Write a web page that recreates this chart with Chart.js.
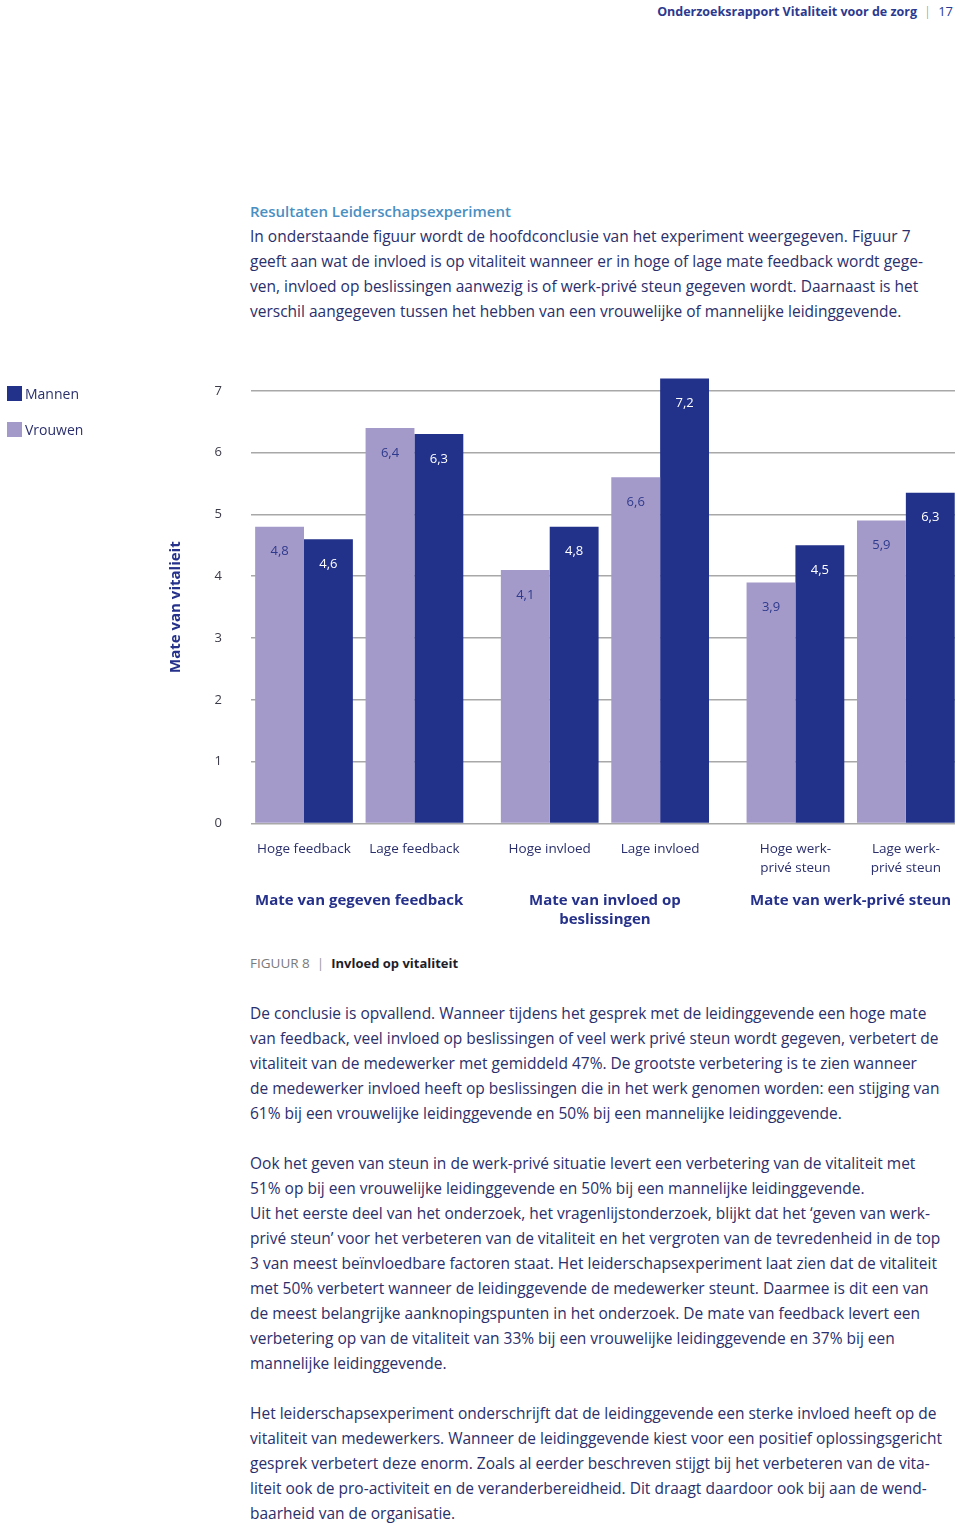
<!DOCTYPE html>
<html>
<head>
<meta charset="utf-8">
<script src="https://cdn.jsdelivr.net/npm/chart.js@4.4.1/dist/chart.umd.min.js"></script>
<style>
html,body{margin:0;padding:0;background:#fff;}
body{width:960px;height:1526px;position:relative;overflow:hidden;font-family:'Open Sans',sans-serif;color:#2a2f6c;}
.abs{position:absolute;}
.txt{left:250px;font-size:15.5px;line-height:25px;white-space:nowrap;color:#2a2f6c;}
.txt .ln{height:25px;}
.head{color:#4a8fc2;font-weight:600;font-size:15px;}
#hdr{right:7px;top:2px;font-size:12.5px;white-space:nowrap;color:#2b3990;}
#hdr b{font-weight:700;}
#hdr .sep{color:#888;margin:0 7px;font-weight:300;font-size:13px;}
#hdr .pg{font-size:13px;}
#caption{left:250px;top:954px;font-size:13.5px;white-space:nowrap;}
#caption .f{color:#7a7a7a;}
#caption .sep{color:#999;margin:0 7px;}
#caption .t{color:#1e1e2a;font-weight:700;font-size:13px;}
#chartWrap{left:0;top:354px;width:960px;height:580px;}
.leg{left:7px;height:15px;display:flex;align-items:center;font-size:14px;color:#2a2f6c;white-space:nowrap;}
.leg .sw{width:15px;height:15px;margin-right:3px;}
</style>
</head>
<body>
<div id="hdr" class="abs"><b>Onderzoeksrapport Vitaliteit voor de zorg</b><span class="sep">|</span><span class="pg">17</span></div>

<div class="abs txt" style="top:198.5px;">
<div class="ln head">Resultaten Leiderschapsexperiment</div>
<div class="ln">In onderstaande figuur wordt de hoofdconclusie van het experiment weergegeven. Figuur 7</div>
<div class="ln">geeft aan wat de invloed is op vitaliteit wanneer er in hoge of lage mate feedback wordt gege-</div>
<div class="ln">ven, invloed op beslissingen aanwezig is of werk-privé steun gegeven wordt. Daarnaast is het</div>
<div class="ln">verschil aangegeven tussen het hebben van een vrouwelijke of mannelijke leidinggevende.</div>
</div>

<div id="chartWrap" class="abs"><canvas id="c" width="960" height="580"></canvas></div>
<div id="legend"></div>

<div id="caption" class="abs"><span class="f">FIGUUR 8</span><span class="sep">|</span><span class="t">Invloed op vitaliteit</span></div>

<div class="abs txt" style="top:1000.5px;">
<div class="ln">De conclusie is opvallend. Wanneer tijdens het gesprek met de leidinggevende een hoge mate</div>
<div class="ln">van feedback, veel invloed op beslissingen of veel werk privé steun wordt gegeven, verbetert de</div>
<div class="ln">vitaliteit van de medewerker met gemiddeld 47%. De grootste verbetering is te zien wanneer</div>
<div class="ln">de medewerker invloed heeft op beslissingen die in het werk genomen worden: een stijging van</div>
<div class="ln">61% bij een vrouwelijke leidinggevende en 50% bij een mannelijke leidinggevende.</div>
<div class="ln"></div>
<div class="ln">Ook het geven van steun in de werk-privé situatie levert een verbetering van de vitaliteit met</div>
<div class="ln">51% op bij een vrouwelijke leidinggevende en 50% bij een mannelijke leidinggevende.</div>
<div class="ln">Uit het eerste deel van het onderzoek, het vragenlijstonderzoek, blijkt dat het ‘geven van werk-</div>
<div class="ln">privé steun’ voor het verbeteren van de vitaliteit en het vergroten van de tevredenheid in de top</div>
<div class="ln">3 van meest beïnvloedbare factoren staat. Het leiderschapsexperiment laat zien dat de vitaliteit</div>
<div class="ln">met 50% verbetert wanneer de leidinggevende de medewerker steunt. Daarmee is dit een van</div>
<div class="ln">de meest belangrijke aanknopingspunten in het onderzoek. De mate van feedback levert een</div>
<div class="ln">verbetering op van de vitaliteit van 33% bij een vrouwelijke leidinggevende en 37% bij een</div>
<div class="ln">mannelijke leidinggevende.</div>
<div class="ln"></div>
<div class="ln">Het leiderschapsexperiment onderschrijft dat de leidinggevende een sterke invloed heeft op de</div>
<div class="ln">vitaliteit van medewerkers. Wanneer de leidinggevende kiest voor een positief oplossingsgericht</div>
<div class="ln">gesprek verbetert deze enorm. Zoals al eerder beschreven stijgt bij het verbeteren van de vita-</div>
<div class="ln">liteit ook de pro-activiteit en de veranderbereidheid. Dit draagt daardoor ook bij aan de wend-</div>
<div class="ln">baarheid van de organisatie.</div>
</div>

<script>
// ---- data ----
const categories = ['Hoge feedback', 'Lage feedback', 'Hoge invloed', 'Lage invloed', 'Hoge werk-privé steun', 'Lage werk-privé steun'];
const categoryLines = [['Hoge feedback'], ['Lage feedback'], ['Hoge invloed'], ['Lage invloed'], ['Hoge werk-', 'privé steun'], ['Lage werk-', 'privé steun']];
const groupOfCategory = [0, 0, 1, 1, 2, 2];
const groupTitles = [['Mate van gegeven feedback'], ['Mate van invloed op', 'beslissingen'], ['Mate van werk-privé steun']];
const seriesNames = ['Vrouwen', 'Mannen'];
// bar heights as drawn in the figure
const vrouwenValues = [4.8, 6.4, 4.1, 5.6, 3.9, 4.9];
const mannenValues = [4.6, 6.3, 4.8, 7.2, 4.5, 5.35];
// value labels as printed in the figure
const vrouwenLabels = ['4,8', '6,4', '4,1', '6,6', '3,9', '5,9'];
const mannenLabels = ['4,6', '6,3', '4,8', '7,2', '4,5', '6,3'];
const yTicks = [0, 1, 2, 3, 4, 5, 6, 7];
const yTitle = 'Mate van vitalieit';

// ---- layout / style ----
const COLORS = ['#a49aca', '#22318a'];
const LABEL_COLORS = ['#2e3a8c', '#ffffff'];
const NAVY = '#2a2f6c';
const FONT = "'Open Sans', sans-serif";
const clusterGap = 0.225;
const positions = categories.map((c, i) => i + groupOfCategory[i] * clusterGap);

Chart.defaults.font.family = FONT;

const valueSets = [vrouwenValues, mannenValues];
const labelSets = [vrouwenLabels, mannenLabels];

const datasets = seriesNames.map((name, s) => ({
  label: name,
  data: valueSets[s].map((v, i) => ({ x: positions[i], y: v })),
  backgroundColor: COLORS[s],
  borderWidth: 0,
  clip: false,
  categoryPercentage: 0.885,
  barPercentage: 1.0,
  valueLabels: labelSets[s],
  valueLabelColor: LABEL_COLORS[s]
}));

const barLabelPlugin = {
  id: 'barLabels',
  afterDatasetsDraw(chart) {
    const ctx = chart.ctx;
    chart.data.datasets.forEach((ds, di) => {
      const meta = chart.getDatasetMeta(di);
      meta.data.forEach((bar, i) => {
        ctx.save();
        ctx.font = "13px " + FONT;
        ctx.fillStyle = ds.valueLabelColor;
        ctx.textAlign = 'center';
        ctx.textBaseline = 'middle';
        ctx.fillText(ds.valueLabels[i], bar.x, bar.y + 25);
        ctx.restore();
      });
    });
  }
};

const categoryLabelPlugin = {
  id: 'categoryLabels',
  afterDraw(chart) {
    const ctx = chart.ctx;
    const xs = chart.scales.x;
    const base = chart.chartArea.bottom;
    ctx.save();
    ctx.textAlign = 'center';
    ctx.textBaseline = 'middle';
    ctx.fillStyle = NAVY;
    ctx.font = "13.5px " + FONT;
    categoryLines.forEach((lines, i) => {
      const x = xs.getPixelForValue(positions[i]);
      lines.forEach((t, k) => ctx.fillText(t, x, base + 26 + k * 19));
    });
    ctx.font = "bold 15px " + FONT;
    ctx.fillStyle = '#25318a';
    groupTitles.forEach((lines, g) => {
      const px = positions.filter((p, i) => groupOfCategory[i] === g).map(p => xs.getPixelForValue(p));
      const x = (Math.min(...px) + Math.max(...px)) / 2;
      lines.forEach((t, k) => ctx.fillText(t, x, base + 77 + k * 19));
    });
    ctx.restore();
  }
};

new Chart(document.getElementById('c'), {
  type: 'bar',
  data: { datasets },
  options: {
    responsive: false,
    maintainAspectRatio: false,
    animation: false,
    events: [],
    layout: { padding: { left: 163, right: 5, top: 0, bottom: 110.5 } },
    plugins: { legend: { display: false }, tooltip: { enabled: false } },
    scales: {
      x: {
        type: 'linear',
        display: false,
        offset: false,
        min: -0.48,
        max: positions[positions.length - 1] + 0.445,
        afterBuildTicks: s => { s.ticks = positions.map(v => ({ value: v })); }
      },
      y: {
        min: 0,
        max: 7,
        afterBuildTicks: s => { s.ticks = yTicks.map(v => ({ value: v })); },
        ticks: { crossAlign: 'center', padding: 29, color: '#3b3b48', font: { size: 13 } },
        grid: { color: '#a8a8a8', lineWidth: 1.5, drawTicks: false },
        border: { display: false },
        title: { display: true, text: yTitle, color: '#25318a', font: { size: 15, weight: 'bold' }, padding: { top: 4, bottom: 4 } },
        afterFit: s => { s.width = 88; }
      }
    }
  },
  plugins: [barLabelPlugin, categoryLabelPlugin]
});

// legend (Mannen first, as in the figure)
const legend = document.getElementById('legend');
[1, 0].forEach((s, k) => {
  const d = document.createElement('div');
  d.className = 'abs leg';
  d.style.top = (386 + k * 36) + 'px';
  d.innerHTML = '<span class="sw" style="background:' + COLORS[s] + '"></span>' + seriesNames[s];
  legend.appendChild(d);
});
</script>
</body>
</html>
